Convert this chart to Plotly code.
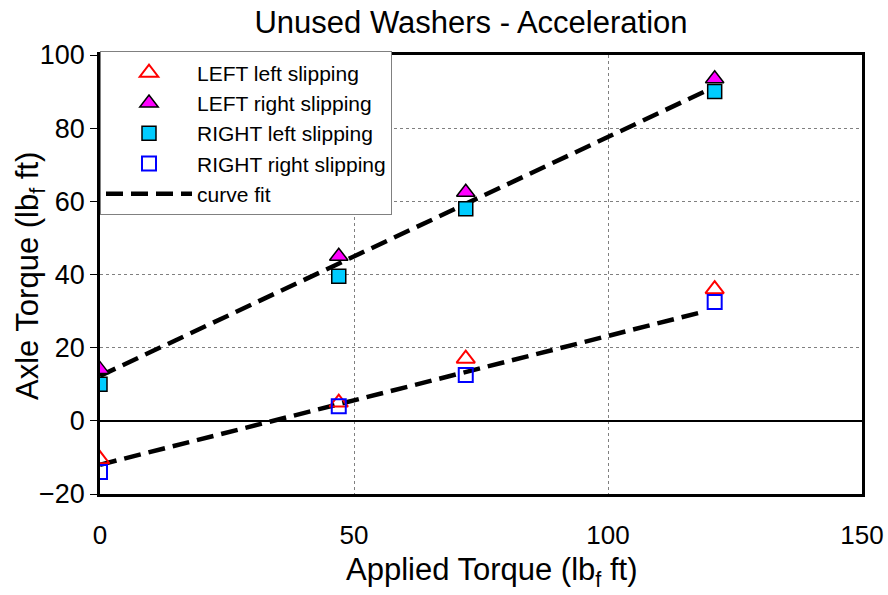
import plotly.graph_objects as go

applied = [0, 47, 72, 121]
left_left = [-10.5, 5.0, 17.0, 36.0]
left_right = [14.0, 45.0, 62.5, 93.5]
right_left = [10.0, 39.5, 58.0, 90.0]
right_right = [-14.0, 4.0, 12.5, 32.5]

fit_x = [0, 119, None, 0, 119]
fit_y = [12.3, 90.0, None, -12.0, 29.9]

FONT = "Arial, Liberation Sans, sans-serif"

L, R, T, B = 100, 26, 55, 101
PW, PH = 888 - L - R, 595 - T - B

fig = go.Figure()
fig.add_trace(go.Scatter(
    x=fit_x, y=fit_y, mode="lines", name="curve fit",
    line=dict(color="black", width=4.5, dash="17px,8px"), showlegend=True,
    legendrank=5))
fig.add_trace(go.Scatter(
    x=applied, y=left_left, mode="markers", name="LEFT left slipping",
    marker=dict(symbol="triangle-up-open", size=16, color="#ff0000", line=dict(width=2, color="#ff0000")),
    legendrank=1))
fig.add_trace(go.Scatter(
    x=applied, y=right_right, mode="markers", name="RIGHT right slipping",
    marker=dict(symbol="square-open", size=14, color="#0000ff", line=dict(width=2, color="#0000ff")),
    legendrank=4))
fig.add_trace(go.Scatter(
    x=applied, y=right_left, mode="markers", name="RIGHT left slipping",
    marker=dict(symbol="square", size=14, color="#00ccff", line=dict(width=1.5, color="black")),
    legendrank=3))
fig.add_trace(go.Scatter(
    x=applied, y=left_right, mode="markers", name="LEFT right slipping",
    marker=dict(symbol="triangle-up", size=16, color="#ff00ff", line=dict(width=1.5, color="black")),
    legendrank=2))

fig.update_layout(
    width=888, height=595,
    margin=dict(l=L, r=R, t=T, b=B),
    paper_bgcolor="white", plot_bgcolor="white",
    font=dict(family=FONT, color="black"),
    title=dict(text="Unused Washers - Acceleration", x=471 / 888, xanchor="center",
               y=1 - 22 / 595, yanchor="middle", font=dict(size=31, family=FONT)),
    showlegend=True,
    legend=dict(x=0, y=1.008, xanchor="left", yanchor="top", bgcolor="white",
                bordercolor="#808080", borderwidth=1, font=dict(size=21, family=FONT),
                itemwidth=86, tracegroupgap=0),
    xaxis=dict(range=[0, 150], tickvals=[0, 50, 100, 150], ticks="", ticklabelstandoff=16,
               showline=True, linecolor="black", linewidth=2.5, mirror=True,
               showgrid=True, gridcolor="#808080", griddash="dot", gridwidth=1,
               zeroline=False, tickfont=dict(size=26), automargin=False),
    yaxis=dict(range=[-20, 100], tickvals=[-20, 0, 20, 40, 60, 80, 100], ticks="outside", ticklen=7,
               tickcolor="black", showline=True, linecolor="black", linewidth=2.5, mirror=True,
               showgrid=True, gridcolor="#808080", griddash="dot", gridwidth=1,
               zeroline=True, zerolinecolor="black", zerolinewidth=1.5, tickfont=dict(size=27),
               automargin=False),
    annotations=[
        dict(text="Applied Torque (lb<sub>f</sub> ft)", xref="paper", yref="paper",
             x=(492 - L) / PW, y=(595 - B - 572) / PH, xanchor="center", yanchor="middle",
             showarrow=False, font=dict(size=31, family=FONT)),
        dict(text="Axle Torque (lb<sub>f</sub> ft)", xref="paper", yref="paper",
             x=(30 - L) / PW, y=(595 - B - 276) / PH, xanchor="center", yanchor="middle",
             textangle=-90, showarrow=False, font=dict(size=31, family=FONT)),
    ],
)

fig.write_html("out.html")
